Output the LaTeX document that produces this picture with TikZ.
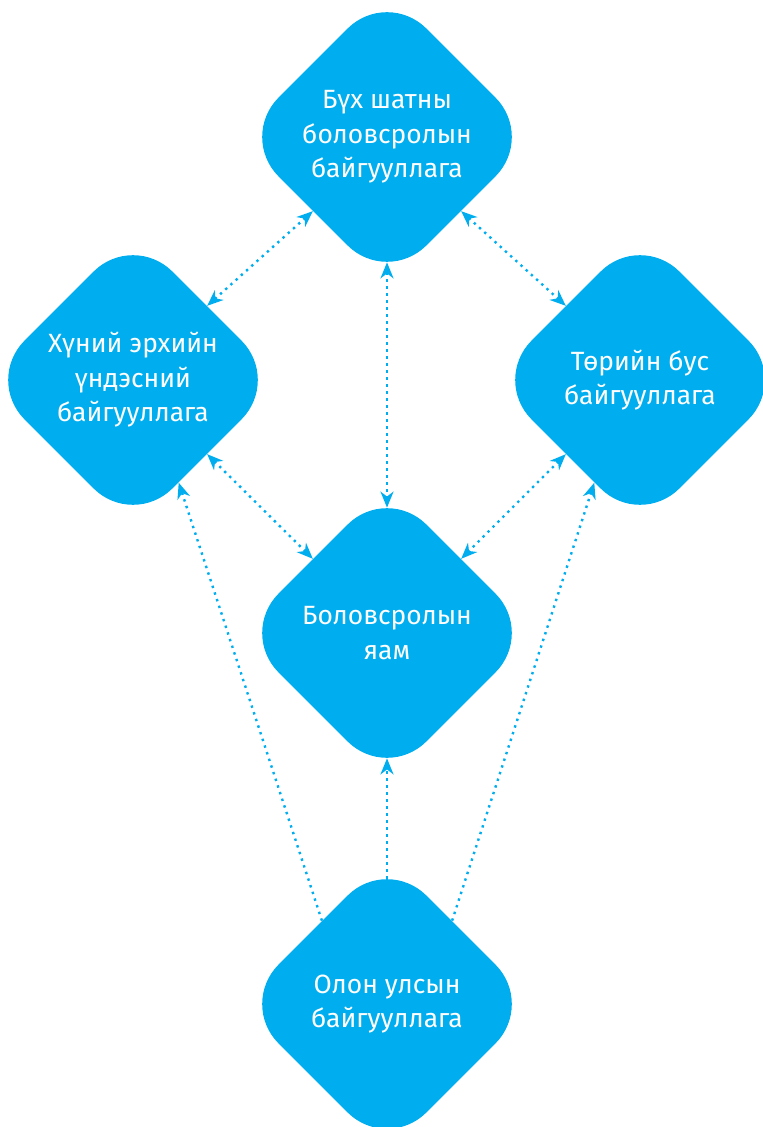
\documentclass[tikz,border=0pt]{standalone}
\usepackage{fontspec}
\setmainfont{Fira Sans}
\usetikzlibrary{shapes.geometric,arrows.meta}
\definecolor{orgblue}{RGB}{0,174,239}
\tikzset{
  org/.style={diamond, aspect=1, minimum size=148pt, inner sep=0pt,
    rounded corners=27.8pt, fill=orgblue, text=white, align=center,
    font=\fontsize{13.2}{17.3}\selectfont},
  link/.style={orgblue, line width=1.2pt, dash pattern=on 1.2pt off 2.3pt},
  cut/.style={shorten <=-11.5pt, shorten >=-11.5pt}
}
\begin{document}
\begin{tikzpicture}[x=0.5pt, y=-0.5pt, >={Stealth[length=8pt,width=6.5pt,inset=2.5pt]}]
  \useasboundingbox (0,0) rectangle (762,1127);
  % organisations
  \node[org] (top) at (387,137) {Бүх шатны\\боловсролын\\байгууллага};
  \node[org] (left) at (133,380) {Хүний эрхийн\\үндэсний\\байгууллага};
  \node[org] (right) at (640,380) {Төрийн бус\\байгууллага};
  \node[org] (mid) at (387,633) {Боловсролын\\яам};
  \node[org] (bot) at (387,1004) {Олон улсын\\байгууллага};
  % links
  \draw[link, <->] (top.-135) -- (left.45);
  \draw[link, <->] (top.-45) -- (right.135);
  \draw[link, <->, cut] (top.south) -- (mid.north);
  \draw[link, <->] (left.-45) -- (mid.135);
  \draw[link, <->] (right.-135) -- (mid.45);
  \draw[link, ->] (bot.128) -- (left.-66);
  \draw[link, ->, cut] (bot.north) -- (mid.south);
  \draw[link, ->] (bot.52) -- (right.-114);
\end{tikzpicture}
\end{document}
